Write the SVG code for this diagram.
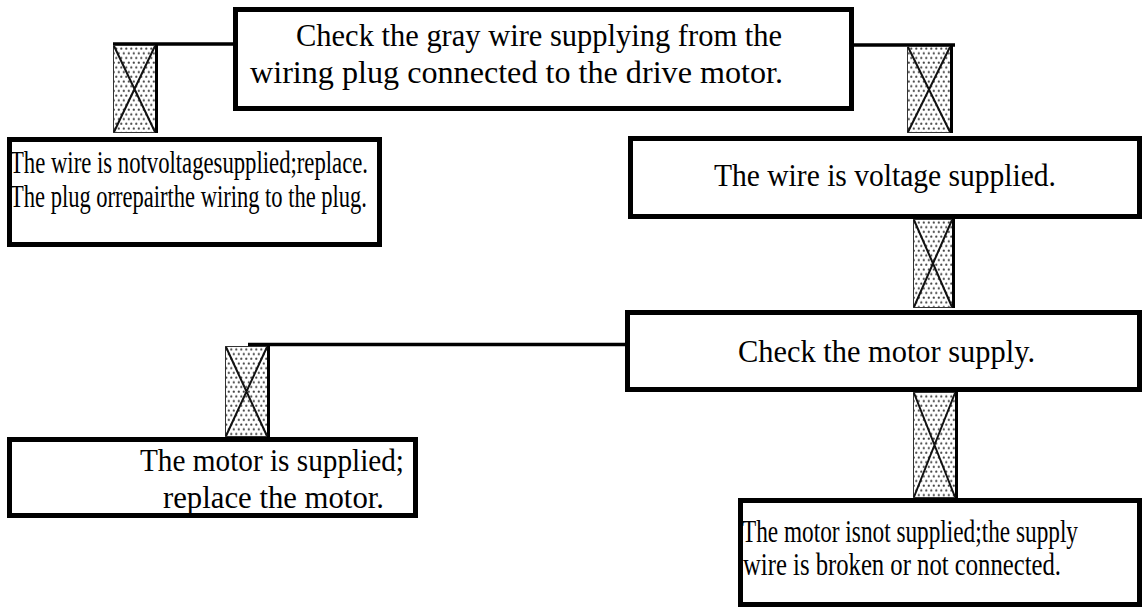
<svg xmlns="http://www.w3.org/2000/svg" width="1142" height="608" viewBox="0 0 1142 608">
  <defs>
    <!-- stippled fill used inside the crossed junction symbols -->
    <pattern id="dots" width="5" height="9.4" patternUnits="userSpaceOnUse">
      <rect width="5" height="9.4" fill="#ffffff"/>
      <circle cx="1.3" cy="1.6" r="1.1" fill="#444"/>
      <circle cx="3.8" cy="6.3" r="1.1" fill="#444"/>
    </pattern>
    <style>
      .box { fill: #ffffff; stroke: #000000; stroke-width: 5; }
      .wire { stroke: #000000; stroke-width: 3.5; fill: none; }
      .sym { fill: url(#dots); stroke: #333; stroke-width: 1; }
      .symx { stroke: #111; stroke-width: 2; fill: none; }
      .symedge { fill: #000000; }
      .t { font-family: "Liberation Serif", "Times New Roman", "DejaVu Serif", serif; font-size: 31px; fill: #000000; }
    </style>
  </defs>

  <!-- connecting lines and crossed junction symbols -->
  <g id="connectors">
    <line class="wire" x1="113" y1="44" x2="235" y2="44"/>
    <line class="wire" x1="852" y1="45" x2="955" y2="45"/>
    <line class="wire" x1="248" y1="344.5" x2="627" y2="344.5"/>

    <g id="sym1">
      <rect class="sym" x="113.5" y="45.5" width="42" height="87"/>
      <rect class="symedge" x="155" y="45" width="3" height="88"/>
      <path class="symx" d="M114 46 L155 132 M155 46 L114 132"/>
    </g>
    <g id="sym2">
      <rect class="sym" x="907.5" y="46.5" width="43" height="86"/>
      <rect class="symedge" x="950" y="46" width="3" height="87"/>
      <path class="symx" d="M908 47 L950 132 M950 47 L908 132"/>
    </g>
    <g id="sym3">
      <rect class="sym" x="913.5" y="219.5" width="39" height="88"/>
      <rect class="symedge" x="952" y="219" width="3" height="89"/>
      <path class="symx" d="M914 220 L952 307 M952 220 L914 307"/>
    </g>
    <g id="sym4">
      <rect class="sym" x="225.5" y="346.5" width="42" height="90"/>
      <rect class="symedge" x="267" y="346" width="3" height="91"/>
      <path class="symx" d="M226 347 L267 436 M267 347 L226 436"/>
    </g>
    <g id="sym5">
      <rect class="sym" x="913.5" y="392.5" width="42" height="105"/>
      <rect class="symedge" x="955" y="392" width="3" height="106"/>
      <path class="symx" d="M914 393 L955 497 M955 393 L914 497"/>
    </g>
  </g>

  <g id="node-check-gray-wire">
    <rect class="box" x="235.5" y="9.5" width="616" height="99"/>
    <text class="t" x="296" y="46" textLength="486" lengthAdjust="spacingAndGlyphs">Check the gray wire supplying from the</text>
    <text class="t" x="250" y="83" textLength="533" lengthAdjust="spacingAndGlyphs">wiring plug connected to the drive motor.</text>
  </g>

  <g id="node-not-voltage">
    <rect class="box" x="9.5" y="139.5" width="370" height="105"/>
    <text class="t" x="10" y="173" textLength="358" lengthAdjust="spacingAndGlyphs">The wire is  notvoltagesupplied;replace.</text>
    <text class="t" x="10" y="207" textLength="357" lengthAdjust="spacingAndGlyphs">The plug orrepairthe wiring to the plug.</text>
  </g>

  <g id="node-voltage">
    <rect class="box" x="630.5" y="138.5" width="509" height="78"/>
    <text class="t" x="714" y="186" textLength="342" lengthAdjust="spacingAndGlyphs">The wire is voltage supplied.</text>
  </g>

  <g id="node-check-motor">
    <rect class="box" x="627.5" y="312.5" width="512" height="77"/>
    <text class="t" x="738" y="362" textLength="297" lengthAdjust="spacingAndGlyphs">Check the motor supply.</text>
  </g>

  <g id="node-motor-supplied">
    <rect class="box" x="9.5" y="439.5" width="406" height="76"/>
    <text class="t" x="140" y="471" textLength="264" lengthAdjust="spacingAndGlyphs">The motor is supplied;</text>
    <text class="t" x="163" y="508" textLength="221" lengthAdjust="spacingAndGlyphs">replace the motor.</text>
  </g>

  <g id="node-motor-not-supplied">
    <rect class="box" x="740.5" y="500.5" width="399" height="104"/>
    <text class="t" x="742" y="542" textLength="336" lengthAdjust="spacingAndGlyphs">The motor isnot supplied;the supply</text>
    <text class="t" x="743" y="575" textLength="318" lengthAdjust="spacingAndGlyphs">wire is broken or not connected.</text>
  </g>
</svg>
